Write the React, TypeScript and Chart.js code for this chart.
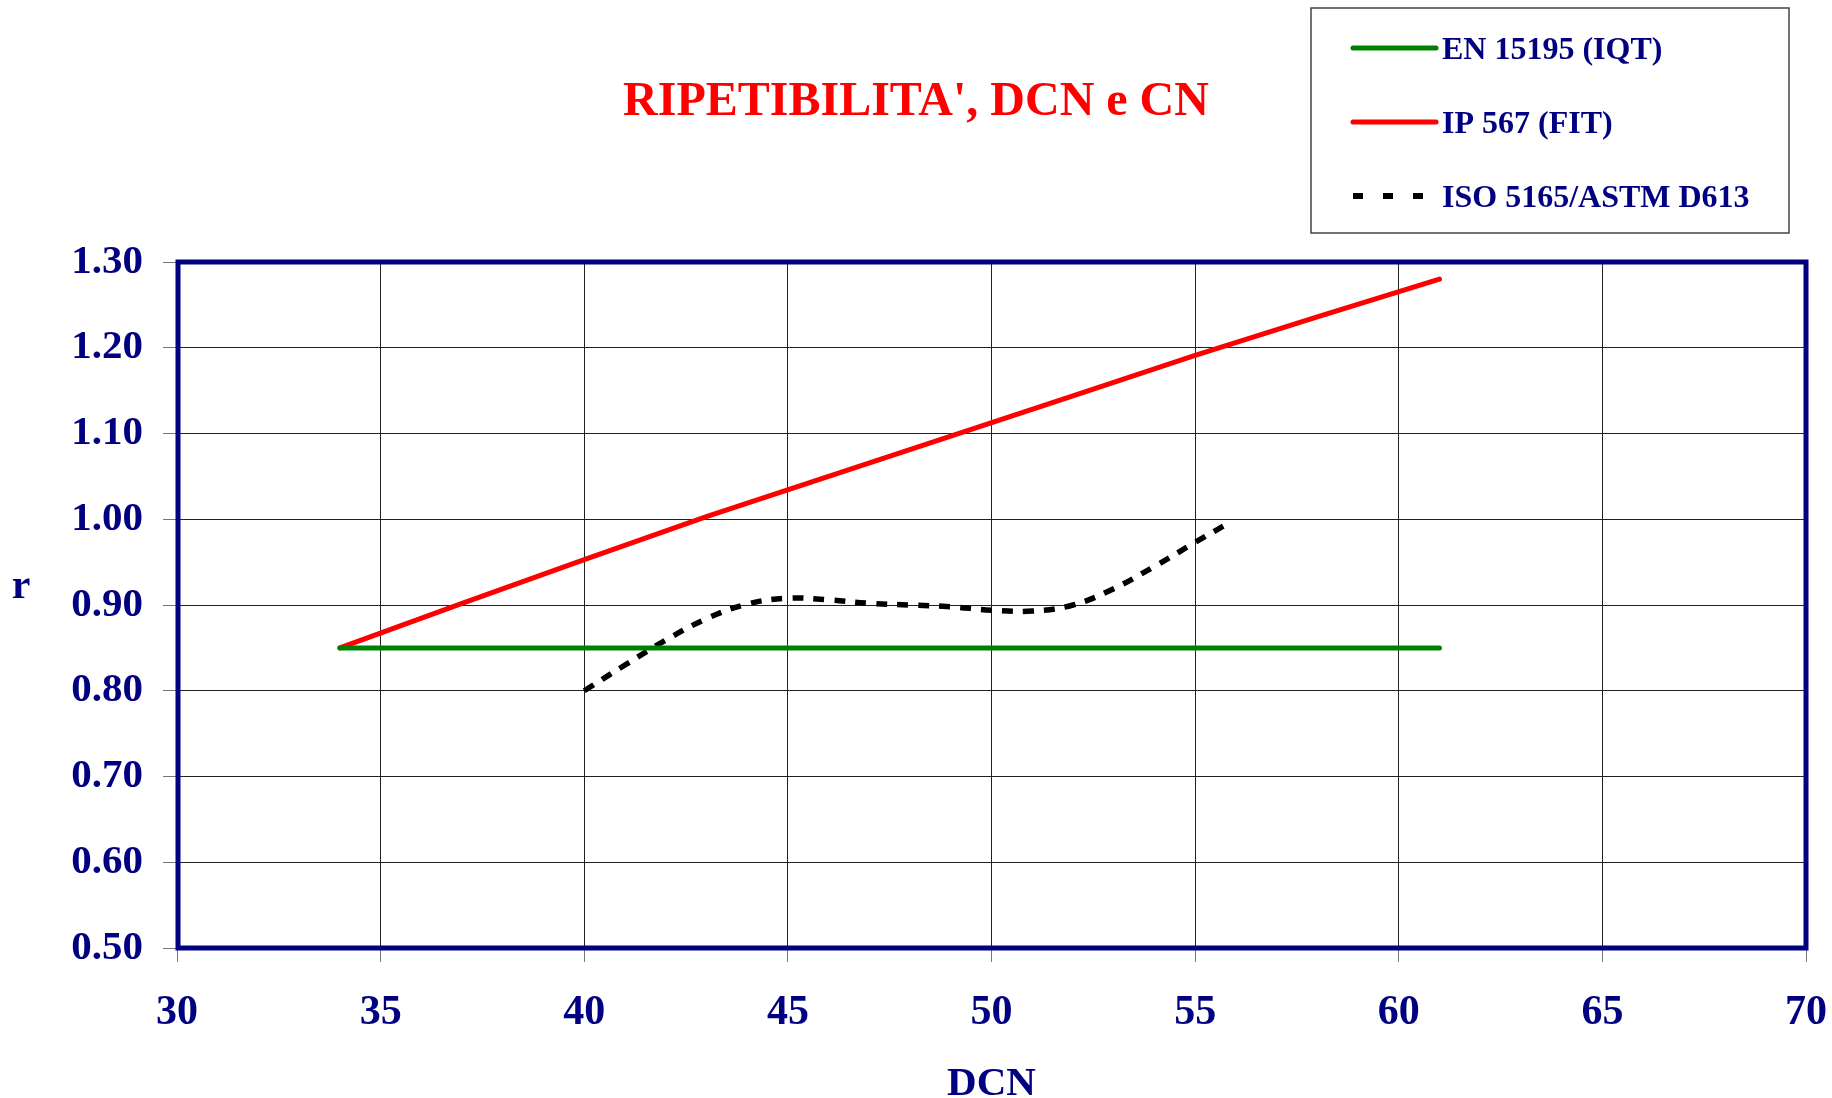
import React, { useEffect, useRef } from 'react';
import { Chart, registerables } from 'chart.js';

Chart.register(...registerables);

const NAVY = '#000080';
const SERIF = '"Liberation Serif", "Times New Roman", serif';

const titleText = "RIPETIBILITA', DCN e CN";
const xTitle = 'DCN';
const yTitle = 'r';

// axis ticks
const xTicks = [30, 35, 40, 45, 50, 55, 60, 65, 70];
const yTicks = [0.5, 0.6, 0.7, 0.8, 0.9, 1.0, 1.1, 1.2, 1.3];

// EN 15195 (IQT)
const enLabel = 'EN 15195 (IQT)';
const enDcn = [34, 61];
const enR = [0.85, 0.85];

// IP 567 (FIT)
const fitLabel = 'IP 567 (FIT)';
const fitDcn = [34, 37, 40, 43, 46, 49, 52, 55, 58, 61];
const fitR = [0.85, 0.902, 0.953, 1.003, 1.05, 1.097, 1.144, 1.191, 1.236, 1.28];

// ISO 5165 / ASTM D613
const isoLabel = 'ISO 5165/ASTM D613';
const isoDcn = [40, 41, 42, 43, 44, 45, 46, 47, 48, 49, 50, 51, 52, 53, 54, 55, 55.8];
const isoR = [0.8, 0.83, 0.859, 0.884, 0.901, 0.908, 0.906, 0.902, 0.9, 0.898, 0.894, 0.893, 0.9, 0.919, 0.945, 0.973, 0.995];

const toPoints = (xs: number[], ys: number[]) => xs.map((x, i) => ({ x, y: ys[i] }));

// legend sample dash per series (legend uses a longer gap than the plot)
const legendDash: Record<string, number[]> = {
  [enLabel]: [],
  [fitLabel]: [],
  [isoLabel]: [10, 20],
};

const decorations = {
  id: 'decorations',
  afterDraw(chart: any) {
    const { ctx, chartArea: a } = chart;
    ctx.save();

    // plot frame
    ctx.strokeStyle = NAVY;
    ctx.lineWidth = 5;
    ctx.strokeRect(a.left + 1, a.top, a.right - a.left - 1, a.bottom - a.top);

    // horizontal y-axis title
    ctx.fillStyle = NAVY;
    ctx.font = `bold 42px ${SERIF}`;
    ctx.textAlign = 'center';
    ctx.textBaseline = 'alphabetic';
    ctx.fillText(yTitle, 21, 598);

    // legend box
    const bx = 1311, by = 8, bw = 478, bh = 225;
    ctx.fillStyle = '#ffffff';
    ctx.fillRect(bx, by, bw, bh);
    ctx.strokeStyle = '#444444';
    ctx.lineWidth = 1.5;
    ctx.strokeRect(bx, by, bw, bh);

    chart.data.datasets.forEach((ds: any, i: number) => {
      const y = 48 + i * 74;
      const dash = legendDash[ds.label] || [];
      ctx.beginPath();
      ctx.setLineDash(dash);
      ctx.lineCap = dash.length ? 'butt' : 'round';
      ctx.lineWidth = dash.length ? 6 : 5;
      ctx.strokeStyle = ds.borderColor;
      ctx.moveTo(1353, y);
      ctx.lineTo(1436, y);
      ctx.stroke();
      ctx.setLineDash([]);

      ctx.fillStyle = NAVY;
      ctx.font = `bold 32px ${SERIF}`;
      ctx.textAlign = 'left';
      ctx.textBaseline = 'middle';
      ctx.fillText(ds.label, 1442, y + 3);
    });

    ctx.restore();
  },
};

export default function App() {
  const canvasRef = useRef<HTMLCanvasElement>(null);

  useEffect(() => {
    if (!canvasRef.current) return;

    const chart = new Chart(canvasRef.current, {
      type: 'line',
      data: {
        datasets: [
          {
            label: enLabel,
            data: toPoints(enDcn, enR),
            borderColor: '#008000',
            borderWidth: 5,
            borderCapStyle: 'round',
            pointRadius: 0,
          },
          {
            label: fitLabel,
            data: toPoints(fitDcn, fitR),
            borderColor: '#ff0000',
            borderWidth: 5,
            borderCapStyle: 'round',
            pointRadius: 0,
          },
          {
            label: isoLabel,
            data: toPoints(isoDcn, isoR),
            borderColor: '#000000',
            borderWidth: 5.5,
            borderDash: [11, 10],
            tension: 0.4,
            pointRadius: 0,
          },
        ],
      },
      options: {
        responsive: false,
        devicePixelRatio: 1,
        animation: false,
        layout: { padding: 0 },
        plugins: {
          legend: { display: false },
          tooltip: { enabled: false },
          title: {
            display: true,
            text: titleText,
            color: '#ff0000',
            font: { family: SERIF, size: 48, weight: 'bold', lineHeight: 1.2 },
            padding: { top: 74, bottom: 130.4 },
          },
        },
        scales: {
          x: {
            type: 'linear',
            min: 30,
            max: 70,
            afterBuildTicks: (s: any) => {
              s.ticks = xTicks.map((v) => ({ value: v }));
            },
            afterFit: (s: any) => {
              s.height = 150;
              s.paddingLeft = 0;
              s.paddingRight = 26;
            },
            grid: { color: '#222222', lineWidth: 1, tickLength: 14, tickColor: '#777777' },
            border: { display: false },
            ticks: {
              color: NAVY,
              padding: 26,
              maxRotation: 0,
              font: { family: SERIF, size: 42, weight: 'bold' },
            },
            title: {
              display: true,
              text: xTitle,
              color: NAVY,
              padding: 0,
              font: { family: SERIF, size: 41, weight: 'bold', lineHeight: 0.66 },
            },
          },
          y: {
            type: 'linear',
            min: 0.5,
            max: 1.3,
            afterBuildTicks: (s: any) => {
              s.ticks = yTicks.map((v) => ({ value: v }));
            },
            afterFit: (s: any) => {
              s.width = 177;
            },
            grid: { color: '#222222', lineWidth: 1, tickLength: 14, tickColor: '#777777' },
            border: { display: false },
            ticks: {
              color: NAVY,
              padding: 20,
              font: { family: SERIF, size: 41, weight: 'bold' },
              callback: (v: any) => Number(v).toFixed(2),
            },
            title: { display: false },
          },
        },
      },
      plugins: [decorations],
    });

    return () => {
      chart.destroy();
    };
  }, []);

  return (
    <div style={{ position: 'absolute', left: 0, top: 0, width: 1832, height: 1098, background: '#ffffff' }}>
      <canvas ref={canvasRef} width={1832} height={1098} />
    </div>
  );
}
